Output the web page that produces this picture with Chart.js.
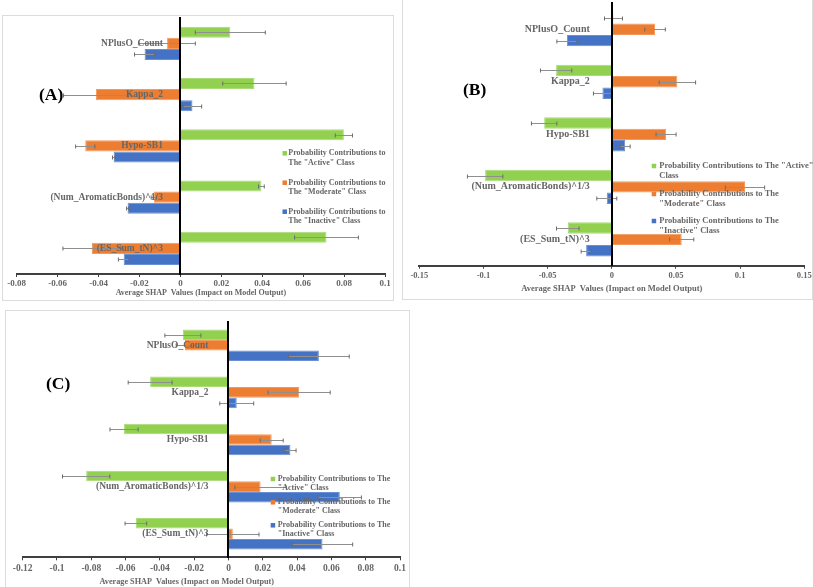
<!DOCTYPE html>
<html>
<head>
<meta charset="utf-8">
<script src="https://cdn.jsdelivr.net/npm/chart.js@4/dist/chart.umd.min.js"></script>
<style>
  html, body { margin: 0; padding: 0; background: #ffffff; }
  body { width: 813px; height: 587px; position: relative; overflow: hidden; }
  .frame { position: absolute; border: 1px solid #dcdcdc; box-sizing: border-box; }
  .wrap { position: absolute; }
  .tag { position: absolute; font-family: "Liberation Serif", serif; font-weight: bold;
         font-size: 17.5px; line-height: 17.5px; color: #000; white-space: nowrap; }
</style>
</head>
<body>
<div class="frame" style="left:2px;top:15px;width:392px;height:286px;"></div>
<div class="frame" style="left:402px;top:-1px;width:411px;height:301px;"></div>
<div class="frame" style="left:5px;top:310px;width:405px;height:290px;"></div>

<div class="wrap" style="left:0px;top:0px;"><canvas id="cA" width="400" height="300"></canvas></div>
<div class="wrap" style="left:400px;top:0px;"><canvas id="cB" width="413" height="300"></canvas></div>
<div class="wrap" style="left:0px;top:305px;"><canvas id="cC" width="420" height="282"></canvas></div>

<div class="tag" style="left:39px;top:86px;">(A)</div>
<div class="tag" style="left:463px;top:81px;">(B)</div>
<div class="tag" style="left:46px;top:375px;">(C)</div>

<script>
// ---------------- data ----------------
const categories = ['NPlusO_Count', 'Kappa_2', 'Hypo-SB1', '(Num_AromaticBonds)^1/3', '(ES_Sum_tN)^3'];
const seriesNames = ['Probability Contributions to The "Active" Class',
                     'Probability Contributions to The "Moderate" Class',
                     'Probability Contributions to The "Inactive" Class'];
const axisTitle = 'Average SHAP  Values (Impact on Model Output)';

// Panel A
const activeA       = [0.0244, 0.0362, 0.0799, 0.0396, 0.0714];
const activeA_err   = [0.0171, 0.0155, 0.0042, 0.0014, 0.0156];
const moderateA     = [-0.0065, -0.0413, -0.0465, -0.0130, -0.0432];
const moderateA_err = [0.0138, 0.0158, 0.0047, 0.0013, 0.0142];
const inactiveA     = [-0.0175, 0.0059, -0.0326, -0.0258, -0.0277];
const inactiveA_err = [0.0049, 0.0045, 0.0006, 0.0005, 0.0026];
const ticksA = [-0.08, -0.06, -0.04, -0.02, 0, 0.02, 0.04, 0.06, 0.08, 0.1];

// Panel B
const activeB       = [0.0013, -0.0434, -0.0527, -0.0987, -0.0343];
const activeB_err   = [0.0070, 0.0122, 0.0099, 0.0138, 0.0088];
const moderateB     = [0.0337, 0.0511, 0.0423, 0.1038, 0.0545];
const moderateB_err = [0.0080, 0.0142, 0.0078, 0.0153, 0.0094];
const inactiveB     = [-0.0350, -0.0073, 0.0104, -0.0039, -0.0200];
const inactiveB_err = [0.0078, 0.0070, 0.0039, 0.0078, 0.0039];
const ticksB = [-0.15, -0.1, -0.05, 0, 0.05, 0.1, 0.15];

// Panel C
const activeC       = [-0.0266, -0.0457, -0.0609, -0.0830, -0.0540];
const activeC_err   = [0.0105, 0.0128, 0.0082, 0.0138, 0.0063];
const moderateC     = [-0.0255, 0.0412, 0.0252, 0.0187, 0.0025];
const moderateC_err = [0.0050, 0.0181, 0.0067, 0.0150, 0.0153];
const inactiveC     = [0.0527, 0.0048, 0.0361, 0.0649, 0.0548];
const inactiveC_err = [0.0177, 0.0099, 0.0033, 0.0126, 0.0176];
const ticksC = [-0.12, -0.1, -0.08, -0.06, -0.04, -0.02, 0, 0.02, 0.04, 0.06, 0.08, 0.1];

// legend text as wrapped in each panel
const legendA = [['Probability Contributions to', 'The "Active" Class'],
                 ['Probability Contributions to', 'The "Moderate" Class'],
                 ['Probability Contributions to', 'The "Inactive" Class']];
const legendB = [['Probability Contributions to The "Active"', 'Class'],
                 ['Probability Contributions to The', '"Moderate" Class'],
                 ['Probability Contributions to The', '"Inactive" Class']];
const legendC = [['Probability Contributions to The', '"Active" Class'],
                 ['Probability Contributions to The', '"Moderate" Class'],
                 ['Probability Contributions to The', '"Inactive" Class']];

// ---------------- styling ----------------
const FONT = '"Liberation Serif", "Times New Roman", serif';
const GRAY = '#666666';
const COLORS = ['#92d050', '#ed7d31', '#4472c4'];
const EDGES  = ['#a9dc78', '#f29a5e', '#6a8fd2'];

function errorBarPlugin() {
  return {
    id: 'errorBars',
    afterDatasetsDraw(chart) {
      const ctx = chart.ctx;
      const xs = chart.scales.x;
      chart.data.datasets.forEach((ds, i) => {
        const meta = chart.getDatasetMeta(i);
        meta.data.forEach((bar, j) => {
          const v = ds.data[j], e = ds.errors[j];
          const x1 = xs.getPixelForValue(v - e);
          const x2 = xs.getPixelForValue(v + e);
          const y = Math.round(bar.y) + 0.5;
          ctx.save();
          ctx.strokeStyle = '#8f8f8f';
          ctx.lineWidth = 1;
          ctx.beginPath();
          ctx.moveTo(x1, y); ctx.lineTo(x2, y);
          ctx.stroke();
          ctx.strokeStyle = '#6a6a6a';
          ctx.beginPath();
          ctx.moveTo(x1, y - 2); ctx.lineTo(x1, y + 2);
          ctx.moveTo(x2, y - 2); ctx.lineTo(x2, y + 2);
          ctx.stroke();
          ctx.restore();
        });
      });
    }
  };
}

function legendPlugin(cfg) {
  return {
    id: 'boxLegend',
    afterDraw(chart) {
      const ctx = chart.ctx;
      ctx.save();
      ctx.font = 'bold ' + cfg.size + 'px ' + FONT;
      ctx.textBaseline = 'middle';
      ctx.textAlign = 'left';
      chart.data.datasets.forEach((ds, i) => {
        const y0 = cfg.y[i];
        ctx.fillStyle = ds.backgroundColor;
        ctx.fillRect(cfg.boxX, y0 - cfg.box / 2, cfg.box, cfg.box);
        ctx.fillStyle = GRAY;
        cfg.lines[i].forEach((t, k) => ctx.fillText(t, cfg.textX, y0 + k * cfg.lineH));
      });
      ctx.restore();
    }
  };
}

function noPad(s) { s.paddingTop = 0; s.paddingBottom = 0; s.paddingLeft = 0; s.paddingRight = 0; }

function makeChart(id, p) {
  const canvas = document.getElementById(id);
  const lo = p.ticks[0], hi = p.ticks[p.ticks.length - 1];
  // the category labels sit a fixed pixel gap to the left of the zero line
  const plotW = canvas.width - p.padding.left - p.padding.right;
  const labelPos = -p.labelGap * (hi - lo) / plotW;
  const datasets = p.values.map((vals, i) => ({
    label: seriesNames[i],
    data: vals,
    errors: p.errors[i],
    backgroundColor: COLORS[i],
    borderColor: EDGES[i],
    borderWidth: 1,
    barPercentage: 1.0,
    categoryPercentage: p.catPct,
    yAxisID: 'y'
  }));
  return new Chart(canvas, {
    type: 'bar',
    data: { labels: categories, datasets },
    options: {
      indexAxis: 'y',
      responsive: false,
      animation: false,
      layout: { padding: p.padding },
      plugins: { legend: { display: false }, tooltip: { enabled: false } },
      scales: {
        x: {
          type: 'linear',
          min: lo,
          max: hi,
          afterBuildTicks(s) { s.ticks = p.ticks.map(v => ({ value: v })); },
          afterFit(s) { s.height = p.axisH; noPad(s); },
          grid: { drawOnChartArea: false, drawTicks: true, tickLength: 3, color: '#404040', lineWidth: 1 },
          border: { display: true, color: '#404040', width: 2 },
          ticks: {
            padding: p.tickPad,
            color: GRAY,
            font: { family: FONT, size: p.tickSize, weight: 'bold' },
            maxRotation: 0,
            autoSkip: false,
            callback: (v) => String(v)
          },
          title: {
            display: true,
            text: p.title,
            color: GRAY,
            font: { family: FONT, size: p.titleSize, weight: 'bold' },
            padding: { top: 0, bottom: p.titlePad }
          }
        },
        y: {
          type: 'category',
          position: { x: 0 },
          afterFit: noPad,
          grid: { display: false, drawTicks: false },
          border: { display: true, color: '#000000', width: 2, z: 2 },
          ticks: { display: false }
        },
        yLabels: {
          type: 'category',
          axis: 'y',
          position: { x: labelPos },
          afterFit: noPad,
          grid: { display: false, drawTicks: false },
          border: { display: false },
          ticks: {
            z: 1,
            padding: 0,
            color: GRAY,
            autoSkip: false,
            font: { family: FONT, size: p.labelSize, weight: 'bold' }
          }
        }
      }
    },
    plugins: [errorBarPlugin(), legendPlugin(p.legend)]
  });
}

makeChart('cA', {
  values: [activeA, moderateA, inactiveA],
  errors: [activeA_err, moderateA_err, inactiveA_err],
  ticks: ticksA, catPct: 0.65,
  padding: { left: 16.7, right: 15, top: 17.7, bottom: 0 },
  axisH: 26, tickPad: 1, tickSize: 9, title: axisTitle, titleSize: 8, titlePad: 1.9,
  labelGap: 17.5, labelSize: 9.5,
  legend: { lines: legendA, boxX: 282.5, box: 4.5, textX: 288.3, y: [153.3, 182.7, 211.7], lineH: 9.2, size: 8 }
});

makeChart('cB', {
  values: [activeB, moderateB, inactiveB],
  errors: [activeB_err, moderateB_err, inactiveB_err],
  ticks: ticksB, catPct: 0.65,
  padding: { left: 19.3, right: 8.7, top: 3, bottom: 0 },
  axisH: 34.3, tickPad: 2, tickSize: 8.5, title: axisTitle, titleSize: 8.5, titlePad: 6.6,
  labelGap: 22, labelSize: 10,
  legend: { lines: legendB, boxX: 251.7, box: 4.5, textX: 259.3, y: [166, 194, 221], lineH: 10, size: 8.5 }
});

makeChart('cC', {
  values: [activeC, moderateC, inactiveC],
  errors: [activeC_err, moderateC_err, inactiveC_err],
  ticks: ticksC, catPct: 0.67,
  padding: { left: 22.7, right: 20, top: 16.7, bottom: 0 },
  axisH: 29.7, tickPad: 2.3, tickSize: 9.5,
  title: axisTitle + '\u2003\u2003\u2003\u2003\u2003\u2003', titleSize: 8.2, titlePad: 0,
  labelGap: 20, labelSize: 9.5,
  legend: { lines: legendC, boxX: 270.7, box: 4.5, textX: 277.7, y: [174, 197.3, 220.3], lineH: 9, size: 8 }
});
</script>
</body>
</html>
